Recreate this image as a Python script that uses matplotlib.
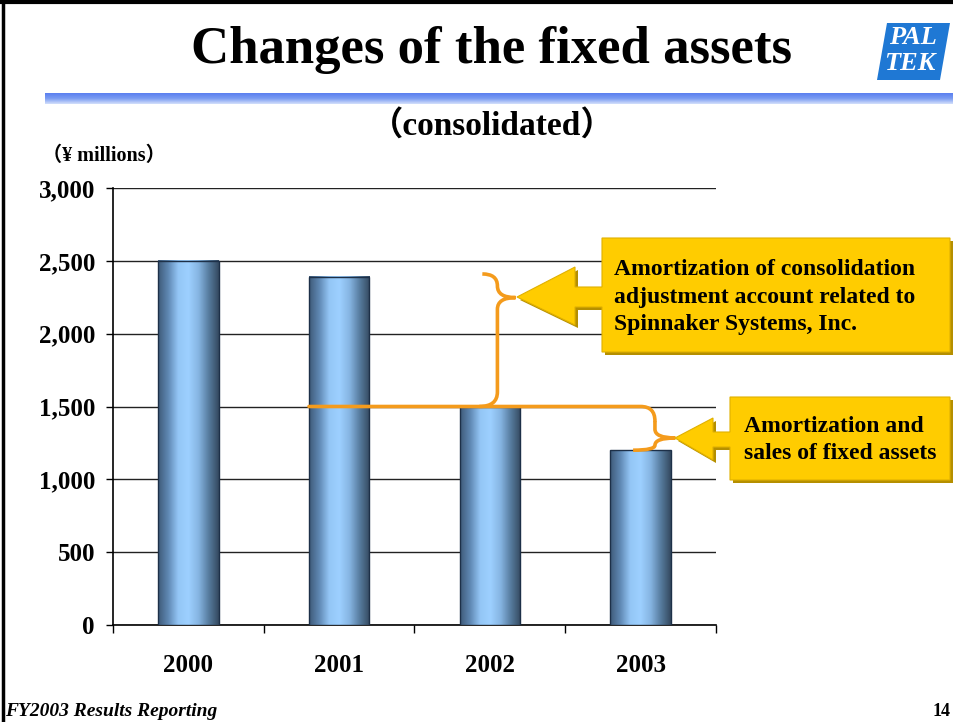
#!/usr/bin/env python3
import numpy as np
import matplotlib
matplotlib.use('Agg')
import matplotlib.pyplot as plt
from matplotlib.path import Path
from matplotlib.patches import PathPatch, Polygon, Rectangle
from matplotlib.colors import LinearSegmentedColormap

years = ['2000', '2001', '2002', '2003']
fixed_assets = [2500, 2390, 1500, 1200]
y_ticks = [0, 500, 1000, 1500, 2000, 2500, 3000]

title = 'Changes of the fixed assets'
subtitle = '\uff08consolidated\uff09'
unit_label = '\uff08\u00a5 millions\uff09'
note_upper = 'Amortization of consolidation\nadjustment account related to\nSpinnaker Systems, Inc.'
note_lower = 'Amortization and\nsales of fixed assets'
footer = 'FY2003 Results Reporting'
page_no = '14'

SERIF = ['Liberation Serif', 'Noto Sans CJK JP']
W, H = 954, 722

fig = plt.figure(figsize=(W / 100, H / 100), dpi=100)
fig.patch.set_facecolor('white')

# main chart area
ax = fig.add_axes([113 / W, (H - 625) / H, (716 - 113) / W, (625 - 188) / H])
bar_w = 0.4
cmap = LinearSegmentedColormap.from_list(
    'bar', ['#3e5a78', '#5f88b3', '#94c6f6', '#9dd0ff', '#86b5e2', '#577c9f', '#34495f'])
grad = np.linspace(0, 1, 256).reshape(1, -1)
for i, v in enumerate(fixed_assets):
    ax.imshow(grad, cmap=cmap, aspect='auto', extent=[i - bar_w / 2, i + bar_w / 2, 0, v],
              zorder=3, interpolation='bicubic')
    ax.add_patch(Rectangle((i - bar_w / 2, 0), bar_w, v, fill=False,
                           edgecolor='#1d3048', lw=1.0, zorder=4))

ax.set_xlim(-0.5, len(years) - 0.5)
ax.set_ylim(0, 3000)
ax.set_yticks(y_ticks)
ax.set_yticklabels([f'{t:,}' for t in y_ticks], fontfamily=SERIF, fontweight='bold', fontsize=18)
ax.set_xticks(range(len(years)))
ax.set_xticklabels(years, fontfamily=SERIF, fontweight='bold', fontsize=18)
ax.set_xticks(np.arange(-0.5, len(years)), minor=True)
ax.tick_params(axis='x', which='major', length=0, pad=21)
ax.tick_params(axis='x', which='minor', length=6, width=1, direction='out')
ax.tick_params(axis='y', length=5, width=1, pad=8)
for s in ['top', 'right']:
    ax.spines[s].set_visible(False)
for s in ['left', 'bottom']:
    ax.spines[s].set_color('black')
    ax.spines[s].set_linewidth(1.2)
ax.yaxis.grid(True, color='#222222', lw=1.0)
ax.set_axisbelow(True)
ax.set_facecolor('white')

# orange braces linking the bar levels
orange = '#f49b1c'
y_a, y_b, y_c = fixed_assets[1], fixed_assets[2], fixed_assets[3]
ry = 100
line = Path([(0.8, y_b), (3.0, y_b), (3.095, y_b), (3.095, y_b - ry)],
            [Path.MOVETO, Path.LINETO, Path.CURVE3, Path.CURVE3])
ax.add_patch(PathPatch(line, fill=False, edgecolor=orange, lw=2.6, zorder=6, capstyle='round'))

tip1 = y_b + 0.84 * (y_a - y_b)
b1 = Path([(1.93, y_b), (2.05, y_b), (2.05, y_b + ry),
           (2.05, tip1 - 80), (2.05, tip1), (2.17, tip1),
           (2.05, tip1), (2.05, tip1 + 80),
           (2.05, y_a + 20), (1.95, y_a + 20)],
          [Path.MOVETO, Path.CURVE3, Path.CURVE3,
           Path.LINETO, Path.CURVE3, Path.CURVE3,
           Path.CURVE3, Path.CURVE3,
           Path.CURVE3, Path.CURVE3])
ax.add_patch(PathPatch(b1, fill=False, edgecolor=orange, lw=2.6, zorder=6))

tip2 = y_c + 0.28 * (y_b - y_c)
b2 = Path([(3.095, y_b - ry), (3.095, tip2 + 60), (3.095, tip2), (3.23, tip2),
           (3.095, tip2), (3.095, tip2 - 50), (3.095, y_c), (2.95, y_c)],
          [Path.MOVETO, Path.LINETO, Path.CURVE3, Path.CURVE3,
           Path.CURVE3, Path.CURVE3, Path.CURVE3, Path.CURVE3])
ax.add_patch(PathPatch(b2, fill=False, edgecolor=orange, lw=2.6, zorder=6))

# overlay in pixel coordinates for slide decorations
ov = fig.add_axes([0, 0, 1, 1], zorder=10)
ov.set_xlim(0, W)
ov.set_ylim(H, 0)
ov.axis('off')
ov.patch.set_alpha(0)

# slide frame (top and left)
ov.plot([0, W], [2, 2], color='black', lw=3)
ov.plot([3, 3], [0, H], color='black', lw=2.5)

# blue gradient rule under the title
rule = np.linspace(0, 1, 64).reshape(-1, 1)
rule_cmap = LinearSegmentedColormap.from_list('rule', ['#5a7ff0', '#7b9cf2', '#d4e0fb'])
ov.imshow(rule, cmap=rule_cmap, aspect='auto', extent=[45, W, 104, 93], zorder=1)
ov.set_xlim(0, W)
ov.set_ylim(H, 0)

ov.text(492, 50, title, ha='center', va='center', fontfamily=SERIF,
        fontweight='bold', fontsize=38)
ov.text(492, 126, subtitle, ha='center', va='center', fontfamily=SERIF,
        fontweight='bold', fontsize=24)
ov.text(104, 156, unit_label, ha='center', va='center', fontfamily=SERIF,
        fontweight='bold', fontsize=14.5)
ov.text(5, 711, footer, ha='left', va='center', fontfamily=SERIF,
        fontweight='bold', fontstyle='italic', fontsize=14)
ov.text(951, 712, page_no, ha='right', va='center', fontfamily=SERIF,
        fontweight='bold', fontsize=13)

# logo
ov.add_patch(Polygon([(887, 23), (950, 23), (940, 80), (877, 80)],
                     closed=True, facecolor='#1f78d4', edgecolor='none'))
ov.text(913, 38, 'PAL', ha='center', va='center', color='white', fontfamily=SERIF,
        fontstyle='italic', fontweight='bold', fontsize=19)
ov.text(910, 64, 'TEK', ha='center', va='center', color='white', fontfamily=SERIF,
        fontstyle='italic', fontweight='bold', fontsize=19)


def callout(x0, x1, y0, y1, tip, shaft, base_x, tri):
    pts = [(x0, y0), (x1, y0), (x1, y1), (x0, y1), (x0, shaft[1]), (base_x, shaft[1]),
           (base_x, tri[1]), tip, (base_x, tri[0]), (base_x, shaft[0]), (x0, shaft[0])]
    shadow = [(x + 3, y + 3) for x, y in pts]
    ov.add_patch(Polygon(shadow, closed=True, facecolor='#b58f00', edgecolor='none', zorder=2))
    ov.add_patch(Polygon(pts, closed=True, facecolor='#ffcc00', edgecolor='#e0b000',
                         lw=0.8, zorder=3))


callout(602, 950, 238, 352, (517, 297), (287, 307), 575, (267, 325))
callout(730, 950, 397, 480, (675, 438), (432, 447), 713, (418, 460))

ov.text(614, 297, note_upper, ha='left', va='center', fontfamily=SERIF,
        fontweight='bold', fontsize=17, linespacing=1.4, zorder=4)
ov.text(744, 440, note_lower, ha='left', va='center', fontfamily=SERIF,
        fontweight='bold', fontsize=17, linespacing=1.35, zorder=4)

fig.savefig('out.png', dpi=100)
